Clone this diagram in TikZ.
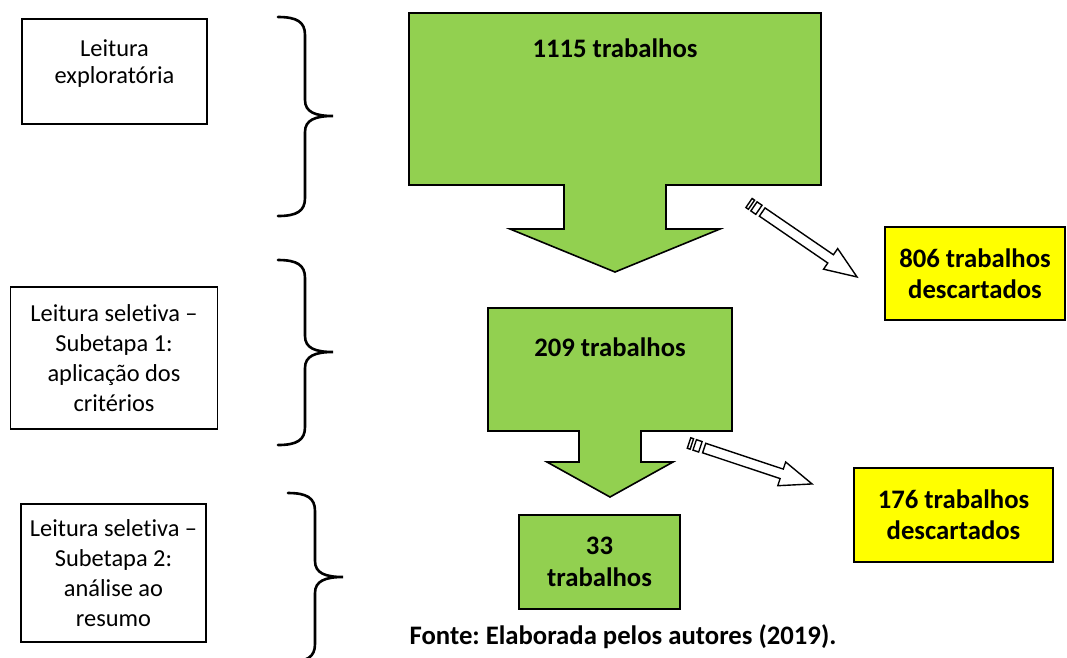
\documentclass[tikz,border=0pt]{standalone}
\usepackage{fontspec}
\setmainfont{Carlito}[Ligatures=NoCommon]
\frenchspacing
\definecolor{grn}{HTML}{92D050}
\definecolor{ylw}{HTML}{FFFF00}
\newcommand\mybrace[4]{% #1=x0, #2=ytop, #3=ytip, #4=ybot
  \draw[brace] (#1,#2) .. controls ({#1+19},#2) and ({#1+27},{#2+5}) .. ({#1+27},{#2+18})
    -- ({#1+27},{#3-16}) .. controls ({#1+27},{#3-4}) and ({#1+37},#3) .. ({#1+55},#3)
    .. controls ({#1+37},#3) and ({#1+27},{#3+4}) .. ({#1+27},{#3+16})
    -- ({#1+27},{#4-18}) .. controls ({#1+27},{#4-5}) and ({#1+19},#4) .. (#1,#4);}
\newcommand\stripedarrow[3]{% #1 tail coordinate, #2 angle, #3 length
  \begin{scope}[shift={(#1)}, rotate=#2]
    \draw[hollow] (0pt,-5.5pt) rectangle (3pt,5.5pt);
    \draw[hollow] (6pt,-5.5pt) rectangle (12pt,5.5pt);
    \draw[hollow] (16pt,-5pt) -- ({#3pt-32pt},-5pt) -- ({#3pt-32pt},-12.5pt) -- (#3pt,0pt)
      -- ({#3pt-32pt},12.5pt) -- ({#3pt-32pt},5pt) -- (16pt,5pt) -- cycle;
  \end{scope}}
\begin{document}
\begin{tikzpicture}[x=1pt,y=-1pt,
  stage/.style={draw=black, line width=1.3pt, align=center, inner sep=0pt,
    font=\fontsize{24.4}{30}\selectfont},
  flow/.style={draw=black, line width=1.6pt, fill=grn, line join=miter},
  gtext/.style={font=\bfseries\fontsize{26.7}{32}\selectfont, align=center},
  drop/.style={draw=black, line width=1.6pt, fill=ylw, align=center, inner sep=0pt,
    font=\bfseries\fontsize{26.7}{31}\selectfont},
  brace/.style={line width=2.6pt, line cap=round},
  hollow/.style={draw=black, line width=1.4pt, fill=white, line join=miter}]
\path[use as bounding box, clip] (0,0) rectangle (1067,657);

% left stage boxes
\node[stage, font=\fontsize{24.4}{27.5}\selectfont, minimum width=185pt, minimum height=105pt, text depth=20pt] (s1) at (114.5,71.5) {Leitura\\exploratória};
\node[stage, minimum width=207pt, minimum height=142pt] (s2) at (114,358) {Leitura seletiva --\\Subetapa 1:\\aplicação dos\\critérios};
\node[stage, minimum width=185pt, minimum height=138pt] (s3) at (113.5,573) {Leitura seletiva --\\Subetapa 2:\\análise ao\\resumo};

% braces
\mybrace{278}{17}{116}{216}
\mybrace{278}{260}{352}{445}
\mybrace{288}{493}{577}{662}

% green flow arrows
\draw[flow] (409,13) -- (821,13) -- (821,185) -- (666,185) -- (666,229) -- (720,229)
  -- (615,272) -- (510,229) -- (564,229) -- (564,185) -- (409,185) -- cycle;
\node[gtext] (n1115) at (615,48) {1115 trabalhos};

\draw[flow] (488,308) -- (732,308) -- (732,431) -- (641,431) -- (641,462) -- (673,462)
  -- (610,497) -- (547,462) -- (579,462) -- (579,431) -- (488,431) -- cycle;
\node[gtext] (n209) at (610,347) {209 trabalhos};

\node[flow, gtext, minimum width=161pt, minimum height=94pt, inner sep=0pt] (n33) at (599.5,562) {33\\trabalhos};

% discarded boxes
\node[drop, minimum width=180pt, minimum height=93pt] (d806) at (975,273.5) {806 trabalhos\\descartados};
\node[drop, minimum width=199pt, minimum height=94pt] (d176) at (953.5,515) {176 trabalhos\\descartados};

% striped hollow arrows
\coordinate (a1s) at (749,203);
\coordinate (a1e) at (857,277);
\stripedarrow{a1s}{-34.4}{130.9}
\coordinate (a2s) at (689,443);
\coordinate (a2e) at (812,484);
\stripedarrow{a2s}{-18.4}{129.7}

\node[font=\bfseries\fontsize{26.7}{32}\selectfont] (fonte) at (623,637) {Fonte: Elaborada pelos autores (2019).};
\end{tikzpicture}
\end{document}
